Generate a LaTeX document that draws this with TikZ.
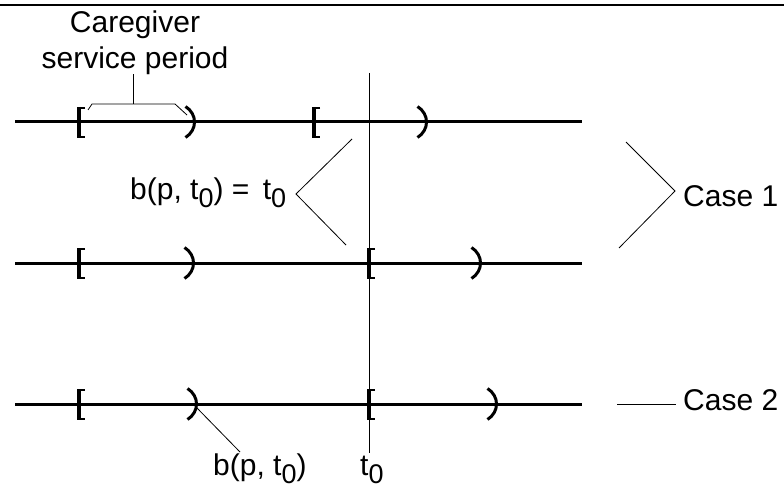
\documentclass[tikz,border=0pt]{standalone}
\usepackage{fontspec}
\setmainfont{Liberation Sans}
\newcommand\subz{\raisebox{-8pt}{\fontsize{27}{27}\selectfont 0}}
\tikzset{
  lbl/.style={inner sep=0pt, font=\fontsize{30}{36}\selectfont},
  axis/.style={line width=3pt},
  lead/.style={line width=0.8pt},
  lbr/.pic={\draw[line width=2.6pt] (7,-14) -- (1.5,-14) -- (1.5,15) -- (7,15);
            \draw[line width=4pt] (1.2,-15) -- (1.2,16);},
  rpar/.pic={\draw[line width=3pt] (-4.5,-15.5) .. controls (7.5,-8) and (7.5,8) .. (-4.5,15.5);}
}
\begin{document}
\begin{tikzpicture}[x=1pt,y=-1pt]
\useasboundingbox (0,0) rectangle (784,489);
% top rule
\coordinate (rl) at (0,5);
\coordinate (rr) at (784,5);
\draw[line width=2pt] (rl) -- (rr);
% time lines
\coordinate (a1) at (15,122); \coordinate (b1) at (582,122);
\coordinate (a2) at (15,263); \coordinate (b2) at (582,263);
\coordinate (a3) at (15,404); \coordinate (b3) at (582,404);
\draw[axis] (a1) -- (b1);
\draw[axis] (a2) -- (b2);
\draw[axis] (a3) -- (b3);
% brackets line 1
\pic at (78,122) {lbr};
\pic at (190,122) {rpar};
\pic at (313,122) {lbr};
\pic at (422,122) {rpar};
% brackets line 2
\pic at (368,263) {lbr};
\pic at (476,263) {rpar};
\pic at (78,263) {lbr};
\pic at (189,263) {rpar};
% brackets line 3
\pic at (78,404) {lbr};
\pic at (192,404) {rpar};
\pic at (368,404) {lbr};
\pic at (492,404) {rpar};
% t0 vertical line
\coordinate (vt) at (369,73);
\coordinate (vb) at (369,453);
\draw[line width=1pt] (vt) -- (vb);
% labels
\node[lbl, anchor=base] (cg1) at (135,33) {Caregiver};
\node[lbl, anchor=base] (cg2) at (135,69) {service period};
\node[lbl, anchor=base west] (beq) at (130,200) {b(p, t\subz) = \,t\subz};
\node[lbl, anchor=base west] (c1) at (683,207) {Case 1};
\node[lbl, anchor=base west] (c2) at (683,410) {Case 2};
\node[lbl, anchor=base west] (bp) at (213,475) {b(p, t\subz)};
\node[lbl, anchor=base west] (t0) at (360,475) {t\subz};
% caregiver brace
\coordinate (br1) at (88,110);
\coordinate (br2) at (92,104);
\coordinate (br3) at (175,104);
\coordinate (br4) at (187,115);
\coordinate (brm) at (133,104);
\coordinate (brt) at (133,74);
\draw[lead] (br1) -- (br2) -- (br3) -- (br4);
\draw[lead] (brm) -- (brt);
% b = t0 leader
\coordinate (e1) at (352,139);
\coordinate (ev) at (296,194);
\coordinate (e2) at (346,245);
\draw[lead] (e1) -- (ev) -- (e2);
% Case 1 leader
\coordinate (k1) at (626,142);
\coordinate (kv) at (675,191);
\coordinate (k2) at (619,248);
\draw[lead] (k1) -- (kv) -- (k2);
% Case 2 leader
\coordinate (m1) at (617,404);
\coordinate (m2) at (676,404);
\draw[lead] (m1) -- (m2);
% b(p,t0) leader
\coordinate (n1) at (197,408);
\coordinate (n2) at (240,452);
\draw[lead] (n1) -- (n2);
\end{tikzpicture}
\end{document}
